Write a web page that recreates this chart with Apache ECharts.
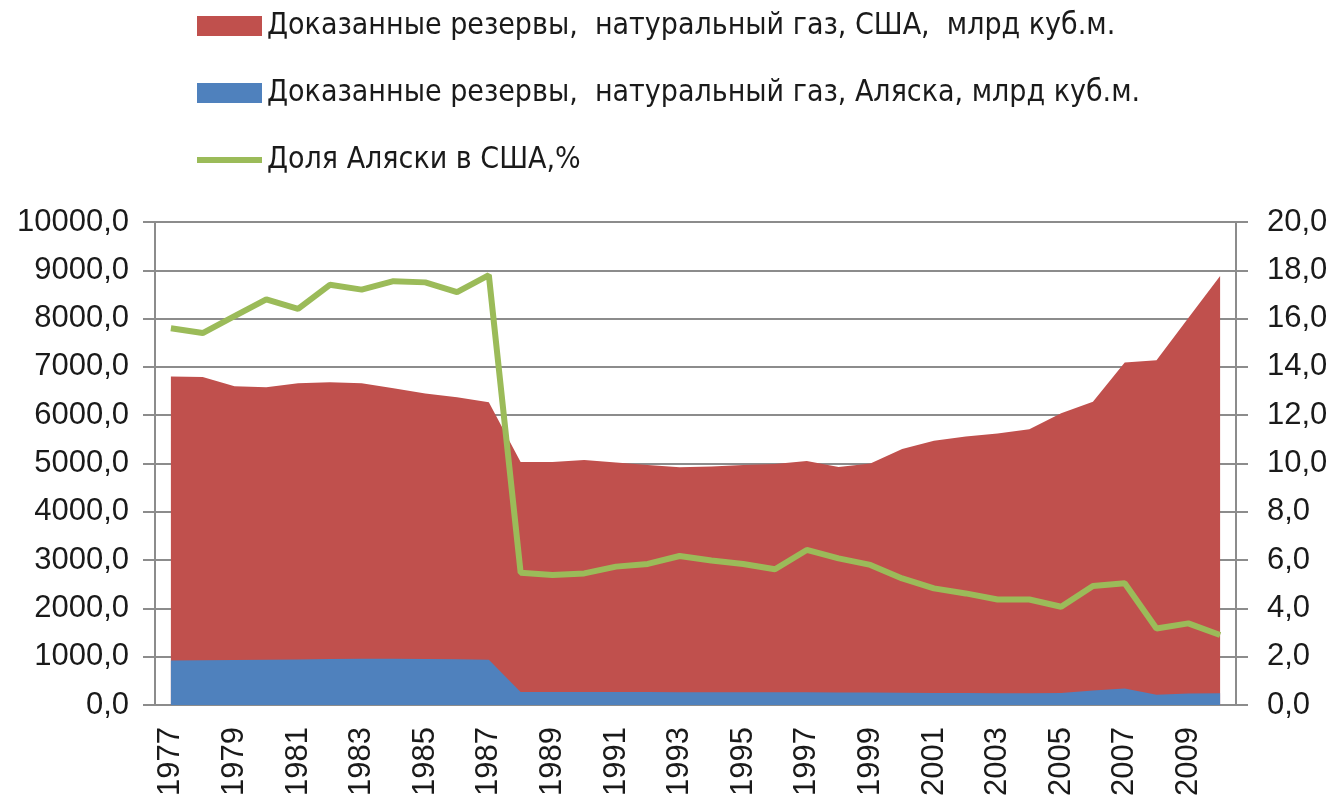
<!DOCTYPE html>
<html lang="ru">
<head>
    <meta charset="UTF-8">
    <title>Доказанные резервы природного газа, США и Аляска</title>
    <style>
        html, body { margin: 0; padding: 0; background: #ffffff; }
    </style>
</head>
<body>
<div id="main" style="width: 1335px;height:803px;"></div>
</body>
<script src="https://cdn.jsdelivr.net/npm/echarts@6/dist/echarts.min.js"></script>
<script>
    // данные
    var years = ['1977', '1978', '1979', '1980', '1981', '1982', '1983', '1984', '1985', '1986', '1987',
        '1988', '1989', '1990', '1991', '1992', '1993', '1994', '1995', '1996', '1997', '1998', '1999',
        '2000', '2001', '2002', '2003', '2004', '2005', '2006', '2007', '2008', '2009', '2010'];

    // США, млрд куб.м.
    var usReserves = [6800, 6790, 6600, 6580, 6660, 6680, 6660, 6560, 6450, 6370, 6270,
        5030, 5030, 5070, 5020, 4970, 4920, 4940, 4970, 4990, 5050, 4930, 5000,
        5300, 5470, 5560, 5620, 5710, 6040, 6280, 7090, 7140, 8010, 8880];

    // Аляска, млрд куб.м.
    var alaskaReserves = [920, 925, 930, 935, 940, 950, 955, 955, 950, 945, 935,
        270, 270, 270, 270, 270, 265, 265, 265, 265, 265, 260, 260,
        255, 250, 250, 245, 245, 250, 300, 340, 210, 240, 245];

    // доля Аляски, %
    var alaskaShare = [15.6, 15.4, 16.1, 16.8, 16.4, 17.4, 17.2, 17.55, 17.5, 17.1, 17.8,
        5.48, 5.38, 5.45, 5.73, 5.84, 6.17, 5.98, 5.84, 5.62, 6.42, 6.07, 5.8,
        5.24, 4.83, 4.62, 4.37, 4.37, 4.07, 4.93, 5.04, 3.17, 3.38, 2.9];

    var seriesNames = [
        'Доказанные резервы,  натуральный газ, США,  млрд куб.м.',
        'Доказанные резервы,  натуральный газ, Аляска, млрд куб.м.',
        'Доля Аляски в США,%'
    ];

    var gridColor = '#8c8c8c';
    var textColor = '#1a1a1a';
    var numFont = 'Liberation Sans';

    // запятая вместо точки
    function fmt(v) {
        return v.toFixed(1).replace('.', ',');
    }

    var app = echarts.init(document.getElementById('main'));
    var option = {
        animation: false,
        backgroundColor: '#ffffff',
        legend: {
            orient: 'vertical',
            left: 192,
            top: 6,
            itemGap: 37,
            itemWidth: 65,
            itemHeight: 20,
            symbolKeepAspect: true,
            textStyle: {
                color: textColor,
                fontSize: 30,
                lineHeight: 30,
                fontFamily: "'Liberation Sans Narrow', 'DejaVu Sans Condensed', sans-serif"
            },
            data: [
                {name: seriesNames[0], icon: 'rect'},
                {name: seriesNames[1], icon: 'rect'},
                // для линии — тонкая полоска без маркера
                {name: seriesNames[2], icon: 'path://M0,0 L65,0 L65,6 L0,6 Z'}
            ]
        },
        grid: {
            left: 155,
            right: 99,
            top: 222,
            bottom: 98,
            containLabel: false
        },
        xAxis: {
            type: 'category',
            boundaryGap: true,
            data: years,
            axisLine: {lineStyle: {color: gridColor, width: 2}},
            axisTick: {
                interval: 1,
                length: 10,
                lineStyle: {color: gridColor, width: 2}
            },
            axisLabel: {
                interval: 1,
                rotate: 90,
                margin: 22,
                fontSize: 31,
                fontFamily: numFont,
                color: textColor
            }
        },
        yAxis: [
            {
                type: 'value',
                min: 0,
                max: 10000,
                interval: 1000,
                axisLine: {show: true, lineStyle: {color: gridColor, width: 2}},
                axisTick: {show: true, length: 12, lineStyle: {color: gridColor, width: 2}},
                splitLine: {lineStyle: {color: gridColor, width: 2}},
                axisLabel: {
                    formatter: fmt,
                    margin: 26,
                    fontSize: 31,
                    fontFamily: numFont,
                    color: textColor
                }
            },
            {
                type: 'value',
                min: 0,
                max: 20,
                interval: 2,
                position: 'right',
                axisLine: {show: true, lineStyle: {color: gridColor, width: 2}},
                axisTick: {show: true, length: 12, lineStyle: {color: gridColor, width: 2}},
                splitLine: {show: false},
                axisLabel: {
                    formatter: fmt,
                    margin: 31,
                    fontSize: 31,
                    fontFamily: numFont,
                    color: textColor
                }
            }
        ],
        series: [
            {
                name: seriesNames[0],
                type: 'line',
                color: '#C0504D',
                symbol: 'none',
                lineStyle: {width: 0},
                areaStyle: {color: '#C0504D', opacity: 1},
                data: usReserves
            },
            {
                name: seriesNames[1],
                type: 'line',
                color: '#4F81BD',
                symbol: 'none',
                lineStyle: {width: 0},
                areaStyle: {color: '#4F81BD', opacity: 1},
                data: alaskaReserves
            },
            {
                name: seriesNames[2],
                type: 'line',
                yAxisIndex: 1,
                color: '#9BBB59',
                symbol: 'none',
                lineStyle: {width: 6, color: '#9BBB59'},
                data: alaskaShare
            }
        ]
    };
    app.setOption(option);
</script>
</html>
